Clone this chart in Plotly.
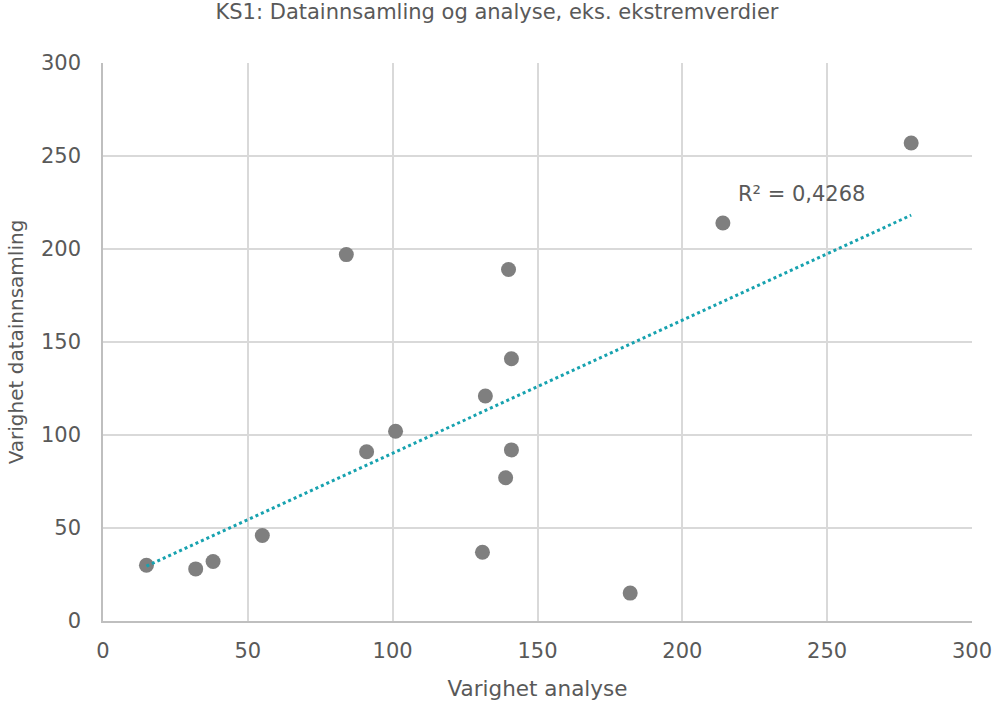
import numpy as np
import plotly.graph_objects as go

varighet_analyse = [15, 32, 38, 55, 84, 91, 101, 131, 132, 139, 140, 141, 141, 182, 214, 279]
varighet_datainnsamling = [30, 28, 32, 46, 197, 91, 102, 37, 121, 77, 189, 92, 141, 15, 214, 257]
r2_label = "R² = 0,4268"
title_text = "KS1: Datainnsamling og analyse, eks. ekstremverdier"
x_title = "Varighet analyse"
y_title = "Varighet datainnsamling"

x = np.array(varighet_analyse, dtype=float)
y = np.array(varighet_datainnsamling, dtype=float)
slope, intercept = np.polyfit(x, y, 1)
tx = np.array([x.min(), x.max()])
ty = slope * tx + intercept

font_family = "'DejaVu Sans', sans-serif"
grey = "#595959"

W, H = 996, 702

fig = go.Figure()
fig.add_trace(go.Scatter(
    x=varighet_analyse, y=varighet_datainnsamling, mode="markers",
    marker=dict(size=15, color="#7F7F7F", line=dict(width=0)),
    showlegend=False, hoverinfo="x+y",
))
fig.add_trace(go.Scatter(
    x=tx, y=ty, mode="lines",
    line=dict(color="#17A2AF", width=3, dash="dot"),
    showlegend=False, hoverinfo="skip",
))
fig.add_annotation(
    x=241, y=229.5, text=r2_label, showarrow=False,
    font=dict(family=font_family, size=21, color=grey),
)

fig.update_layout(
    width=W, height=H,
    margin=dict(l=103, r=24, t=63, b=81, autoexpand=False),
    paper_bgcolor="white", plot_bgcolor="white",
    title=dict(text=title_text, x=497 / W, xanchor="center", y=1 - 12 / H, yanchor="middle",
               font=dict(family=font_family, size=21, color=grey)),
    font=dict(family=font_family, color=grey),
    xaxis=dict(range=[0, 300], dtick=50, showgrid=True, gridcolor="#D9D9D9", gridwidth=1.5,
               zeroline=False, showline=True, linecolor="#BFBFBF", linewidth=1.5, mirror=False,
               ticks="", tickfont=dict(size=21, color=grey), ticklabelstandoff=10,
               ticklabeloverflow="allow", automargin=False,
               title=dict(text=x_title, font=dict(size=21.5, color=grey), standoff=19)),
    yaxis=dict(range=[0, 300], dtick=50, showgrid=True, gridcolor="#D9D9D9", gridwidth=1.5,
               zeroline=False, showline=True, linecolor="#BFBFBF", linewidth=1.5,
               ticks="", tickfont=dict(size=21, color=grey), ticklabelstandoff=16,
               automargin=False,
               title=dict(text=y_title, font=dict(size=20, color=grey), standoff=12)),
)

fig.write_html("out.html", post_script="document.body.style.margin='0';",
               config={"displayModeBar": False})
